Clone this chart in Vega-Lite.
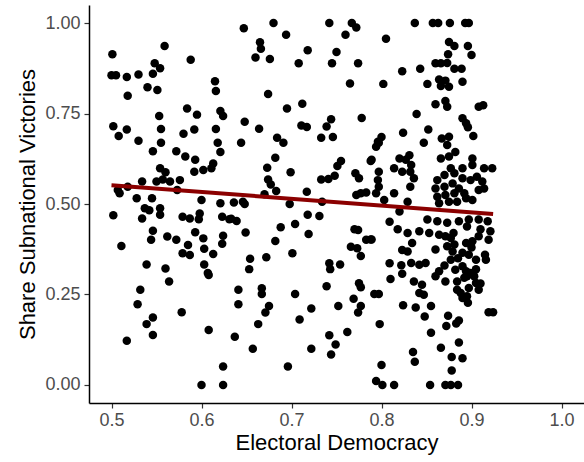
{
  "$schema": "https://vega.github.io/schema/vega-lite/v6.json",
  "width": 495,
  "height": 398,
  "autosize": {"type": "none"},
  "padding": {"left": 89, "top": 5, "right": 0, "bottom": 59},
  "background": "white",
  "config": {
    "font": "Liberation Sans",
    "view": {"stroke": null},
    "axis": {
      "grid": false,
      "domainColor": "black",
      "domainWidth": 1.5,
      "tickColor": "#333333",
      "tickWidth": 1.2,
      "tickSize": 5,
      "labelColor": "#4D4D4D",
      "labelFontSize": 18,
      "labelFont": "Liberation Sans",
      "titleFont": "Liberation Sans",
      "titleFontSize": 22,
      "titleFontWeight": "normal",
      "titleColor": "black"
    }
  },
  "data": {
    "values": [
      {"x":0.559,"y":0.937},{"x":0.501,"y":0.914},{"x":0.588,"y":0.899},{"x":0.548,"y":0.889},{"x":0.554,"y":0.875},
      {"x":0.546,"y":0.860},{"x":0.500,"y":0.856},{"x":0.505,"y":0.856},{"x":0.517,"y":0.851},{"x":0.530,"y":0.858},
      {"x":0.615,"y":0.839},{"x":0.540,"y":0.823},{"x":0.551,"y":0.815},{"x":0.616,"y":0.812},{"x":0.518,"y":0.799},
      {"x":0.584,"y":0.764},{"x":0.595,"y":0.747},{"x":0.621,"y":0.757},{"x":0.624,"y":0.743},{"x":0.553,"y":0.743},
      {"x":0.502,"y":0.715},{"x":0.517,"y":0.706},{"x":0.508,"y":0.688},{"x":0.555,"y":0.707},{"x":0.580,"y":0.694},
      {"x":0.592,"y":0.706},{"x":0.616,"y":0.707},{"x":0.530,"y":0.675},{"x":0.555,"y":0.669},{"x":0.618,"y":0.669},
      {"x":0.647,"y":0.986},{"x":0.680,"y":1.0},{"x":0.694,"y":0.968},{"x":0.742,"y":1.0},{"x":0.767,"y":1.0},
      {"x":0.772,"y":0.988},{"x":0.760,"y":0.968},{"x":0.665,"y":0.947},{"x":0.666,"y":0.929},{"x":0.660,"y":0.905},
      {"x":0.676,"y":0.901},{"x":0.718,"y":0.925},{"x":0.708,"y":0.889},{"x":0.750,"y":0.920},{"x":0.745,"y":0.889},
      {"x":0.774,"y":0.889},{"x":0.765,"y":0.833},{"x":0.674,"y":0.804},{"x":0.695,"y":0.764},{"x":0.712,"y":0.777},
      {"x":0.648,"y":0.727},{"x":0.664,"y":0.708},{"x":0.711,"y":0.717},{"x":0.717,"y":0.713},{"x":0.744,"y":0.734},
      {"x":0.739,"y":0.714},{"x":0.778,"y":0.738},{"x":0.684,"y":0.683},{"x":0.691,"y":0.669},{"x":0.733,"y":0.683},
      {"x":0.746,"y":0.685},{"x":0.644,"y":0.669},
      {"x":0.837,"y":1.0},{"x":0.857,"y":1.0},{"x":0.863,"y":1.0},{"x":0.876,"y":1.0},{"x":0.893,"y":1.0},
      {"x":0.897,"y":1.0},{"x":0.805,"y":0.957},{"x":0.875,"y":0.948},{"x":0.881,"y":0.937},{"x":0.896,"y":0.937},
      {"x":0.874,"y":0.914},{"x":0.900,"y":0.912},{"x":0.860,"y":0.889},{"x":0.866,"y":0.889},{"x":0.873,"y":0.890},
      {"x":0.881,"y":0.874},{"x":0.889,"y":0.874},{"x":0.823,"y":0.867},{"x":0.843,"y":0.874},{"x":0.802,"y":0.832},
      {"x":0.851,"y":0.832},{"x":0.864,"y":0.844},{"x":0.871,"y":0.841},{"x":0.866,"y":0.826},{"x":0.875,"y":0.824},
      {"x":0.890,"y":0.838},{"x":0.860,"y":0.776},{"x":0.871,"y":0.785},{"x":0.873,"y":0.769},{"x":0.908,"y":0.769},
      {"x":0.913,"y":0.773},{"x":0.839,"y":0.749},{"x":0.890,"y":0.737},{"x":0.894,"y":0.723},{"x":0.896,"y":0.712},
      {"x":0.800,"y":0.685},{"x":0.796,"y":0.672},{"x":0.824,"y":0.697},{"x":0.852,"y":0.706},{"x":0.867,"y":0.681},
      {"x":0.875,"y":0.686},{"x":0.902,"y":0.688},{"x":0.847,"y":0.669},
      {"x":0.546,"y":0.646},{"x":0.572,"y":0.646},{"x":0.582,"y":0.631},{"x":0.593,"y":0.622},{"x":0.621,"y":0.644},
      {"x":0.554,"y":0.599},{"x":0.560,"y":0.588},{"x":0.592,"y":0.589},{"x":0.602,"y":0.594},{"x":0.611,"y":0.599},
      {"x":0.613,"y":0.612},{"x":0.534,"y":0.562},{"x":0.550,"y":0.562},{"x":0.557,"y":0.568},{"x":0.565,"y":0.562},
      {"x":0.576,"y":0.566},{"x":0.507,"y":0.539},{"x":0.509,"y":0.530},{"x":0.518,"y":0.548},{"x":0.573,"y":0.539},
      {"x":0.528,"y":0.516},{"x":0.545,"y":0.516},{"x":0.600,"y":0.511},{"x":0.621,"y":0.502},{"x":0.537,"y":0.488},
      {"x":0.542,"y":0.483},{"x":0.554,"y":0.488},{"x":0.502,"y":0.469},{"x":0.534,"y":0.460},{"x":0.554,"y":0.470},
      {"x":0.579,"y":0.465},{"x":0.587,"y":0.460},{"x":0.597,"y":0.458},{"x":0.598,"y":0.474},{"x":0.623,"y":0.465},
      {"x":0.631,"y":0.458},{"x":0.546,"y":0.426},{"x":0.544,"y":0.401},{"x":0.562,"y":0.410},{"x":0.572,"y":0.401},
      {"x":0.593,"y":0.422},{"x":0.602,"y":0.405},{"x":0.624,"y":0.412},{"x":0.623,"y":0.390},{"x":0.585,"y":0.387},
      {"x":0.579,"y":0.364},{"x":0.587,"y":0.359},{"x":0.603,"y":0.376},{"x":0.613,"y":0.362},{"x":0.511,"y":0.384},
      {"x":0.539,"y":0.333},{"x":0.560,"y":0.322},{"x":0.603,"y":0.333},{"x":0.607,"y":0.309},
      {"x":0.682,"y":0.628},{"x":0.673,"y":0.600},{"x":0.699,"y":0.588},{"x":0.674,"y":0.568},{"x":0.677,"y":0.554},
      {"x":0.683,"y":0.536},{"x":0.670,"y":0.527},{"x":0.636,"y":0.504},{"x":0.646,"y":0.506},{"x":0.648,"y":0.500},
      {"x":0.698,"y":0.500},{"x":0.717,"y":0.534},{"x":0.734,"y":0.506},{"x":0.733,"y":0.568},{"x":0.741,"y":0.569},
      {"x":0.748,"y":0.578},{"x":0.751,"y":0.605},{"x":0.755,"y":0.619},{"x":0.788,"y":0.619},{"x":0.771,"y":0.585},
      {"x":0.775,"y":0.571},{"x":0.772,"y":0.525},{"x":0.777,"y":0.530},{"x":0.783,"y":0.532},{"x":0.633,"y":0.459},
      {"x":0.639,"y":0.453},{"x":0.649,"y":0.421},{"x":0.688,"y":0.436},{"x":0.704,"y":0.445},{"x":0.718,"y":0.470},
      {"x":0.731,"y":0.467},{"x":0.719,"y":0.417},{"x":0.682,"y":0.398},{"x":0.770,"y":0.430},{"x":0.774,"y":0.428},
      {"x":0.783,"y":0.401},{"x":0.788,"y":0.402},{"x":0.766,"y":0.382},{"x":0.773,"y":0.378},{"x":0.777,"y":0.356},
      {"x":0.701,"y":0.364},{"x":0.672,"y":0.353},{"x":0.654,"y":0.349},{"x":0.653,"y":0.320},{"x":0.742,"y":0.336},
      {"x":0.743,"y":0.320},{"x":0.754,"y":0.333},
      {"x":0.797,"y":0.669},{"x":0.794,"y":0.658},{"x":0.789,"y":0.622},{"x":0.820,"y":0.626},{"x":0.823,"y":0.589},
      {"x":0.814,"y":0.599},{"x":0.797,"y":0.589},{"x":0.796,"y":0.566},{"x":0.797,"y":0.548},{"x":0.794,"y":0.530},
      {"x":0.814,"y":0.530},{"x":0.803,"y":0.511},{"x":0.820,"y":0.479},{"x":0.809,"y":0.451},{"x":0.818,"y":0.430},
      {"x":0.789,"y":0.402},{"x":0.823,"y":0.373},{"x":0.809,"y":0.336},{"x":0.822,"y":0.331},
      {"x":0.873,"y":0.663},{"x":0.831,"y":0.635},{"x":0.827,"y":0.622},{"x":0.833,"y":0.608},{"x":0.832,"y":0.589},
      {"x":0.836,"y":0.571},{"x":0.832,"y":0.548},{"x":0.866,"y":0.626},{"x":0.875,"y":0.631},{"x":0.882,"y":0.644},
      {"x":0.877,"y":0.599},{"x":0.881,"y":0.585},{"x":0.901,"y":0.626},{"x":0.901,"y":0.608},{"x":0.914,"y":0.599},
      {"x":0.923,"y":0.599},{"x":0.890,"y":0.599},{"x":0.890,"y":0.571},{"x":0.899,"y":0.566},{"x":0.906,"y":0.575},
      {"x":0.912,"y":0.562},{"x":0.914,"y":0.543},{"x":0.908,"y":0.539},{"x":0.862,"y":0.566},{"x":0.870,"y":0.580},
      {"x":0.860,"y":0.543},{"x":0.870,"y":0.548},{"x":0.879,"y":0.557},{"x":0.886,"y":0.543},{"x":0.862,"y":0.520},
      {"x":0.871,"y":0.525},{"x":0.881,"y":0.530},{"x":0.892,"y":0.530},{"x":0.894,"y":0.516},{"x":0.901,"y":0.511},
      {"x":0.864,"y":0.502},{"x":0.875,"y":0.506},{"x":0.884,"y":0.506},{"x":0.829,"y":0.506},
      {"x":0.851,"y":0.457},{"x":0.862,"y":0.452},{"x":0.873,"y":0.448},{"x":0.886,"y":0.452},{"x":0.897,"y":0.457},
      {"x":0.895,"y":0.438},{"x":0.908,"y":0.457},{"x":0.918,"y":0.452},{"x":0.829,"y":0.420},{"x":0.842,"y":0.425},
      {"x":0.834,"y":0.392},{"x":0.829,"y":0.369},{"x":0.853,"y":0.420},{"x":0.864,"y":0.415},{"x":0.871,"y":0.411},
      {"x":0.877,"y":0.406},{"x":0.881,"y":0.388},{"x":0.879,"y":0.369},{"x":0.873,"y":0.383},{"x":0.894,"y":0.392},
      {"x":0.901,"y":0.397},{"x":0.908,"y":0.411},{"x":0.919,"y":0.401},{"x":0.921,"y":0.425},{"x":0.860,"y":0.374},
      {"x":0.890,"y":0.365},{"x":0.897,"y":0.360},{"x":0.905,"y":0.346},{"x":0.916,"y":0.346},{"x":0.877,"y":0.346},
      {"x":0.833,"y":0.337},{"x":0.842,"y":0.332},{"x":0.849,"y":0.337},{"x":0.864,"y":0.314},{"x":0.860,"y":0.300},
      {"x":0.882,"y":0.318},{"x":0.890,"y":0.328},{"x":0.894,"y":0.314},{"x":0.899,"y":0.309},{"x":0.892,"y":0.296},
      {"x":0.903,"y":0.300},{"x":0.905,"y":0.282},{"x":0.871,"y":0.286},{"x":0.836,"y":0.286},{"x":0.845,"y":0.277},
      {"x":0.842,"y":0.254},{"x":0.847,"y":0.249},{"x":0.884,"y":0.286},{"x":0.884,"y":0.263},{"x":0.888,"y":0.254},
      {"x":0.897,"y":0.268},{"x":0.908,"y":0.263},{"x":0.895,"y":0.245},{"x":0.896,"y":0.227},
      {"x":0.895,"y":0.300},{"x":0.905,"y":0.320},{"x":0.885,"y":0.350},{"x":0.910,"y":0.280},{"x":0.900,"y":0.380},
      {"x":0.880,"y":0.420},{"x":0.915,"y":0.360},{"x":0.890,"y":0.240},{"x":0.870,"y":0.330},{"x":0.910,"y":0.430},
      {"x":0.608,"y":0.304},{"x":0.564,"y":0.286},{"x":0.532,"y":0.263},{"x":0.529,"y":0.223},{"x":0.546,"y":0.186},
      {"x":0.539,"y":0.168},{"x":0.546,"y":0.138},{"x":0.578,"y":0.201},{"x":0.517,"y":0.122},{"x":0.608,"y":0.152},
      {"x":0.624,"y":0.051},{"x":0.600,"y":0.0},{"x":0.624,"y":0.0},
      {"x":0.641,"y":0.263},{"x":0.667,"y":0.267},{"x":0.667,"y":0.251},{"x":0.641,"y":0.223},{"x":0.675,"y":0.218},
      {"x":0.671,"y":0.200},{"x":0.663,"y":0.168},{"x":0.637,"y":0.133},{"x":0.657,"y":0.100},{"x":0.704,"y":0.251},
      {"x":0.709,"y":0.181},{"x":0.722,"y":0.211},{"x":0.722,"y":0.100},{"x":0.696,"y":0.051},{"x":0.739,"y":0.273},
      {"x":0.752,"y":0.218},{"x":0.742,"y":0.137},{"x":0.749,"y":0.112},{"x":0.744,"y":0.084},{"x":0.762,"y":0.146},
      {"x":0.775,"y":0.281},{"x":0.777,"y":0.270},{"x":0.769,"y":0.238},{"x":0.777,"y":0.218},{"x":0.774,"y":0.200},
      {"x":0.792,"y":0.251},
      {"x":0.810,"y":0.293},{"x":0.823,"y":0.307},{"x":0.797,"y":0.251},{"x":0.824,"y":0.220},{"x":0.838,"y":0.214},
      {"x":0.855,"y":0.218},{"x":0.848,"y":0.189},{"x":0.874,"y":0.191},{"x":0.872,"y":0.163},{"x":0.883,"y":0.170},
      {"x":0.886,"y":0.178},{"x":0.919,"y":0.201},{"x":0.924,"y":0.201},{"x":0.798,"y":0.168},{"x":0.855,"y":0.144},
      {"x":0.886,"y":0.117},{"x":0.866,"y":0.103},{"x":0.835,"y":0.091},{"x":0.837,"y":0.064},{"x":0.878,"y":0.077},
      {"x":0.890,"y":0.074},{"x":0.878,"y":0.040},{"x":0.800,"y":0.055},{"x":0.794,"y":0.011},{"x":0.801,"y":0.0},
      {"x":0.814,"y":0.0},{"x":0.854,"y":0.0},{"x":0.871,"y":0.0},{"x":0.877,"y":0.0},{"x":0.885,"y":0.0}
    ]
  },
  "encoding": {
    "x": {
      "field": "x", "type": "quantitative", "title": "Electoral Democracy",
      "scale": {"domain": [0.475, 1.025], "nice": false, "zero": false},
      "axis": {"values": [0.5, 0.6, 0.7, 0.8, 0.9, 1.0], "format": ".1f", "labelPadding": 3, "titlePadding": 3}
    },
    "y": {
      "field": "y", "type": "quantitative", "title": "Share Subnational Victories",
      "scale": {"domain": [-0.05, 1.05], "nice": false, "zero": false},
      "axis": {"values": [0, 0.25, 0.5, 0.75, 1.0], "format": ".2f", "labelPadding": 4, "titlePadding": 5}
    }
  },
  "layer": [
    {
      "mark": {"type": "circle", "size": 72, "color": "black", "opacity": 1}
    },
    {
      "transform": [{"regression": "y", "on": "x"}],
      "mark": {"type": "line", "color": "#8B0000", "strokeWidth": 4}
    }
  ]
}
